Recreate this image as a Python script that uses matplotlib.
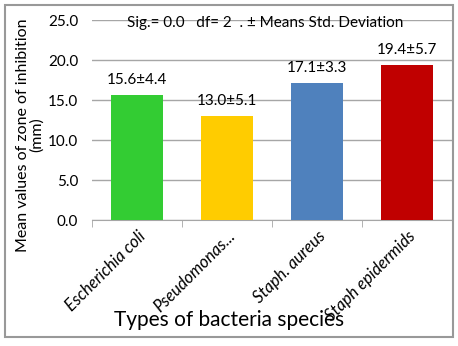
import matplotlib.pyplot as plt
from matplotlib.patches import Rectangle

species = ["Escherichia coli", "Pseudomonas...", "Staph. aureus", "Staph epidermids"]
means = [15.6, 13.0, 17.1, 19.4]
sds = [4.4, 5.1, 3.3, 5.7]
colors = ["#33CC33", "#FFCC00", "#4F81BD", "#C00000"]
yticks = [0, 5, 10, 15, 20, 25]

plt.rcParams['font.family'] = ['Lato', 'DejaVu Sans']

fig = plt.figure(figsize=(4.58, 3.46), dpi=100)
ax = fig.add_axes([92/458, 1-220/346, 360/458, 200/346])

x = range(len(species))
ax.bar(x, means, width=0.57, color=colors, zorder=3)
for i in x:
    ax.text(i, means[i] + 1.0, "%.1f±%.1f" % (means[i], sds[i]),
            ha='center', va='bottom', fontsize=11)

ax.text(0.48, 0.985, "Sig.= 0.0   df= 2  . ± Means Std. Deviation",
        transform=ax.transAxes, ha='center', va='center', fontsize=11)

ax.set_xlim(-0.5, 3.5)
ax.set_ylim(0, 25)
ax.set_yticks(yticks)
ax.set_yticklabels(["%.1f" % v for v in yticks], fontsize=11)
ax.yaxis.grid(True, color="#a6a6a6", linewidth=1, zorder=0)
ax.tick_params(axis='y', length=0, pad=10)

ax.set_xticks(list(x))
ax.set_xticklabels(species, rotation=45, ha='right', rotation_mode='anchor',
                   fontsize=12, style='italic')
ax.tick_params(axis='x', length=0, pad=6)
# ticks at category boundaries
ax.set_xticks([-0.5, 0.5, 1.5, 2.5, 3.5], minor=True)
ax.tick_params(axis='x', which='minor', length=5, color="#a6a6a6")

for s in ['top', 'right', 'left']:
    ax.spines[s].set_visible(False)
ax.spines['bottom'].set_color("#a6a6a6")

fig.text(30/458, 1-135/346, "Mean values of zone of inhibition\n(mm)", rotation=90,
         ha='center', va='center', fontsize=11.5, multialignment='center', linespacing=0.95)
fig.text(0.5, 1-320/346, "Types of bacteria species", ha='center', va='center', fontsize=15)

fig.patches.append(Rectangle((5/458, 1-337/346), 448/458, 332/346, transform=fig.transFigure,
                             fill=False, edgecolor="#999999", linewidth=1.5))

fig.savefig("out.png", dpi=100)
